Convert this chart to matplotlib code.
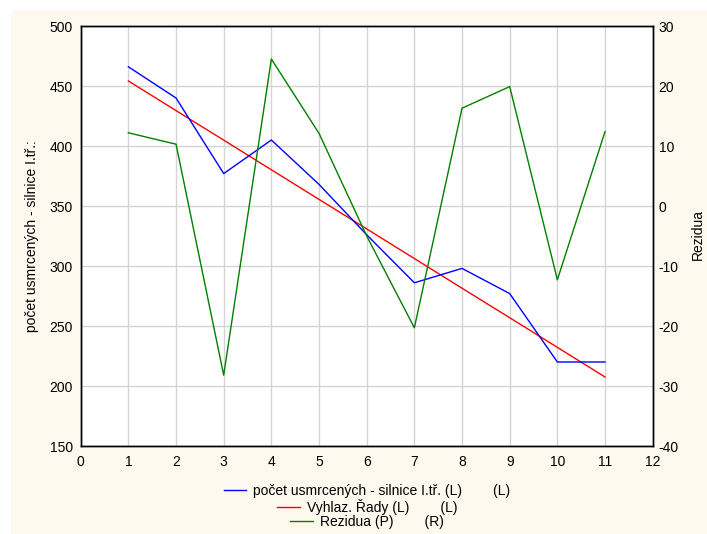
import matplotlib
matplotlib.use("Agg")
import matplotlib.pyplot as plt
from matplotlib.patches import Rectangle
from matplotlib.lines import Line2D

plt.rcParams['font.family'] = ['Liberation Sans', 'DejaVu Sans']
plt.rcParams['font.size'] = 10
plt.rcParams['axes.unicode_minus'] = False

# data
x = [1, 2, 3, 4, 5, 6, 7, 8, 9, 10, 11]
pocet = [466, 440, 377, 405, 368, 326, 286, 298, 277, 220, 220]
vyhlaz = [454.2, 429.5, 404.9, 380.2, 355.5, 330.9, 306.2, 281.5, 256.9, 232.2, 207.5]
rezidua = [12.2, 10.3, -28.2, 24.5, 12.1, -5.0, -20.3, 16.3, 19.9, -12.3, 12.4]

xticks = list(range(0, 13))
lticks = [150, 200, 250, 300, 350, 400, 450, 500]
rticks = [-40, -30, -20, -10, 0, 10, 20, 30]

lab1 = "počet usmrcených - silnice I.tř. (L)        (L)"
lab2 = "Vyhlaz. Řady (L)        (L)"
lab3 = "Rezidua (P)        (R)"

W, H = 707, 534
fig = plt.figure(figsize=(W / 100, H / 100), dpi=100, facecolor='white')
fig.patches.append(Rectangle((11 / W, 0), 1 - 11 / W, 1 - 10 / H,
                             transform=fig.transFigure, facecolor='#fef9ee',
                             edgecolor='none', zorder=-10))

ax = fig.add_axes([80.7 / W, 1 - 446 / H, 572 / W, 420 / H])
ax.set_facecolor('white')
ax.plot(x, vyhlaz, color='#ff0000', lw=1)
ax.plot(x, pocet, color='#0000ff', lw=1)
ax.set_xlim(0, 12)
ax.set_ylim(150, 500)
ax.set_xticks(xticks)
ax.set_yticks(lticks)
ax.grid(True, color='#d4d4d4', lw=1)
ax.set_axisbelow(True)
ax.tick_params(axis='y', length=0, pad=5.8)
ax.tick_params(axis='x', length=0, pad=6.5)
for s in ax.spines.values():
    s.set_color('black')
    s.set_linewidth(1)

ax2 = ax.twinx()
ax2.plot(x, rezidua, color='#008000', lw=1)
ax2.set_ylim(-40, 30)
ax2.set_yticks(rticks)
ax2.tick_params(axis='y', length=0, pad=4.3)
for s in ax2.spines.values():
    s.set_color('black')
    s.set_linewidth(1)

fig.text(32 / W, 1 - 236 / H, "počet usmrcených - silnice I.tř.:",
         rotation=90, ha='center', va='center')
fig.text(698 / W, 1 - 234 / H, "Rezidua", rotation=90, ha='center', va='center')

rows = [(lab1, '#0000ff', 491), (lab2, '#ff0000', 507), (lab3, '#008000', 522)]
for lab, col, yy in rows:
    h = Line2D([], [], color=col, lw=1)
    fig.legend([h], [lab], loc='center', bbox_to_anchor=(367 / W, 1 - yy / H),
               frameon=False, handlelength=1.65, handletextpad=0.5,
               borderpad=0, borderaxespad=0, fontsize=10)

fig.savefig("out.png", dpi=100, facecolor=fig.get_facecolor())
